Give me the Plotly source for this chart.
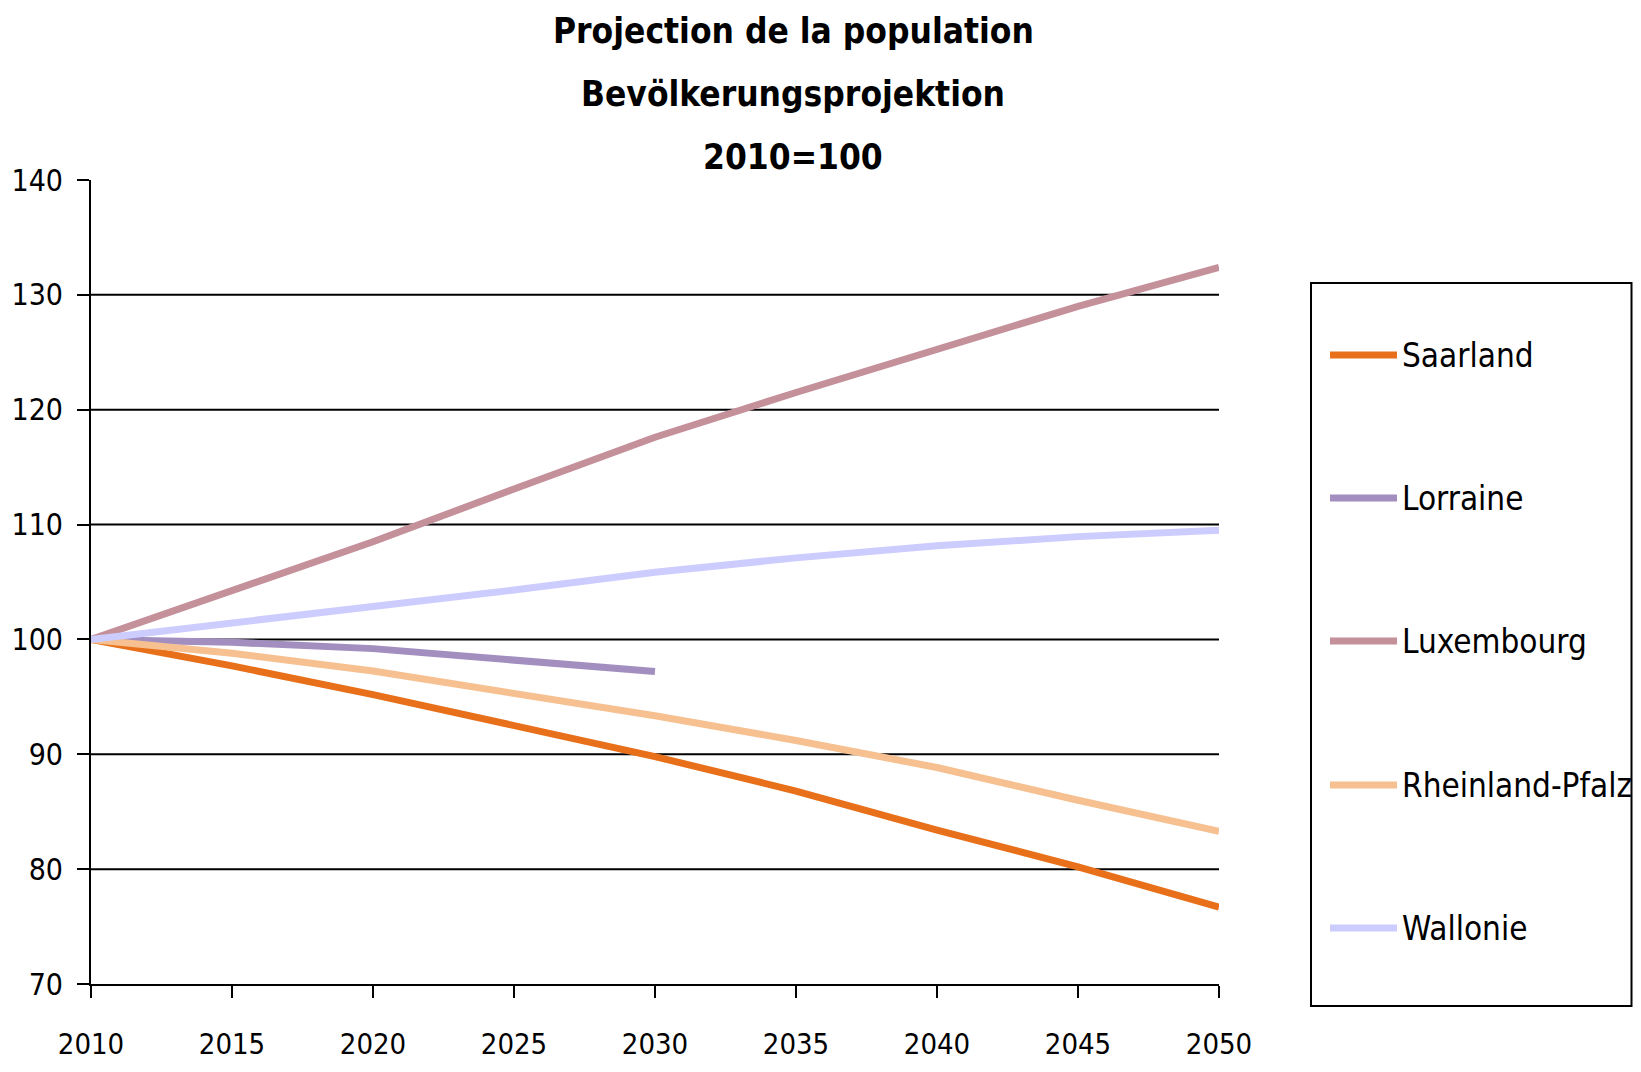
import plotly.graph_objects as go

# ---- data ----
years = [2010, 2015, 2020, 2025, 2030, 2035, 2040, 2045, 2050]
years_lorraine = [2010, 2015, 2020, 2025, 2030]

saarland = [100, 97.7, 95.2, 92.5, 89.8, 86.8, 83.4, 80.2, 76.7]
lorraine = [100, 99.75, 99.2, 98.25, 97.2]
luxembourg = [100, 104.2, 108.5, 113.1, 117.6, 121.5, 125.3, 129.0, 132.4]
rheinland_pfalz = [100, 98.8, 97.25, 95.35, 93.35, 91.2, 88.85, 86.0, 83.3]
wallonie = [100, 101.4, 102.8, 104.3, 105.85, 107.1, 108.15, 108.95, 109.5]

series_names = ["Saarland", "Lorraine", "Luxembourg", "Rheinland-Pfalz", "Wallonie"]
series_colors = ["#E8701A", "#A38EC0", "#C4909A", "#F6C090", "#CCCCFF"]
title_lines = ["Projection de la population", "Bevölkerungsprojektion", "2010=100"]
y_ticks = [70, 80, 90, 100, 110, 120, 130, 140]
x_ticks = [2010, 2015, 2020, 2025, 2030, 2035, 2040, 2045, 2050]

FONT = "DejaVu Sans Condensed, DejaVu Sans, sans-serif"

# ---- geometry (pixels, page has an 8px body margin) ----
OFF = 8
W, H = 1641 - 2 * OFF, 1072 - 2 * OFF
L, R, T, B = 91 - OFF, 1219 - OFF, 180 - OFF, 984 - OFF
pw, ph = R - L, B - T


def px(x):
    return (x - OFF - L) / pw


def py(y):
    return (B - (y - OFF)) / ph


fig = go.Figure()
data = [(years, saarland), (years_lorraine, lorraine), (years, luxembourg),
        (years, rheinland_pfalz), (years, wallonie)]
for (xs, ys), name, col in zip(data, series_names, series_colors):
    fig.add_trace(go.Scatter(x=xs, y=ys, mode="lines", name=name,
                             line=dict(color=col, width=7), showlegend=False))

shapes = []
# horizontal gridlines (no line at 140, 70 is the axis)
for v in y_ticks[1:-1]:
    shapes.append(dict(type="line", xref="paper", yref="y", x0=0, x1=1, y0=v, y1=v,
                       line=dict(color="black", width=2), layer="below"))

# legend box
shapes.append(dict(type="rect", xref="paper", yref="paper",
                   x0=px(1311), x1=(W - 1.5 - L) / pw, y0=py(1006), y1=py(283),
                   line=dict(color="black", width=2), fillcolor="rgba(0,0,0,0)"))
legend_y = [355, 498, 641, 785, 928]
annotations = []
for yy, name, col in zip(legend_y, series_names, series_colors):
    shapes.append(dict(type="line", xref="paper", yref="paper",
                       x0=px(1330), x1=px(1397), y0=py(yy), y1=py(yy),
                       line=dict(color=col, width=7)))
    annotations.append(dict(xref="paper", yref="paper", x=px(1400), y=py(yy),
                            text=name, showarrow=False, xanchor="left", yanchor="middle",
                            font=dict(family=FONT, size=33, color="black")))

for yy, txt in zip([31, 94, 157], title_lines):
    annotations.append(dict(xref="paper", yref="paper", x=px(793), y=py(yy),
                            text="<b>" + txt + "</b>", showarrow=False,
                            xanchor="center", yanchor="middle",
                            font=dict(family=FONT, size=35, color="black")))

fig.update_layout(
    width=W, height=H,
    margin=dict(l=L, r=W - R, t=T, b=H - B, pad=0, autoexpand=False),
    paper_bgcolor="white", plot_bgcolor="white",
    showlegend=False,
    shapes=shapes, annotations=annotations,
    xaxis=dict(range=[2010, 2050], tickvals=x_ticks, showgrid=False, zeroline=False,
               showline=True, linecolor="black", linewidth=2, automargin=False,
               ticks="outside", ticklen=12, tickwidth=2, tickcolor="black",
               ticklabelstandoff=21,
               tickfont=dict(family=FONT, size=29, color="black")),
    yaxis=dict(range=[70, 140], tickvals=y_ticks, showgrid=False, zeroline=False,
               showline=True, linecolor="black", linewidth=2, automargin=False,
               ticks="outside", ticklen=12, tickwidth=2, tickcolor="black",
               ticklabelstandoff=8,
               tickfont=dict(family=FONT, size=30, color="black")),
)

fig.write_html("out.html")
